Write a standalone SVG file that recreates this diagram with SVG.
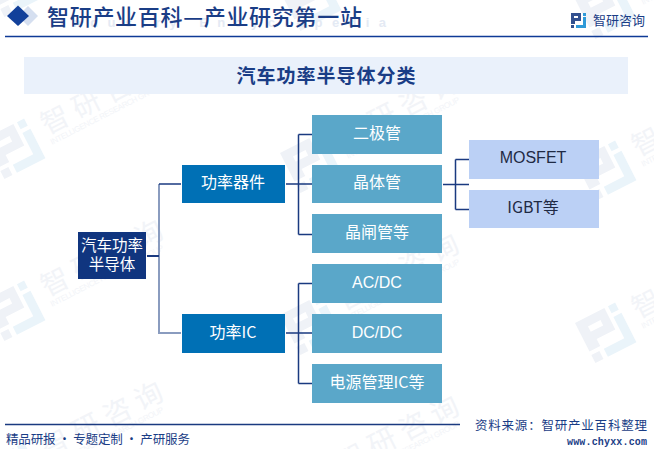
<svg xmlns="http://www.w3.org/2000/svg" xmlns:xlink="http://www.w3.org/1999/xlink" width="654" height="449" viewBox="0 0 654 449">
<style>
text{font-family:"Noto Sans CJK SC","Liberation Sans",sans-serif}
.lat{font-family:"Liberation Sans","Noto Sans CJK SC",sans-serif}
.c{text-anchor:middle;font-size:16px;fill:#fff}
.d{text-anchor:middle;font-size:16px;fill:#1f2a44}
.root{fill:#10357f}.mid{fill:#0070b5}.leaf{fill:#5aa7c9}.sub{fill:#bbd0f5}
.ln{fill:none;stroke:#1a3a80;stroke-width:1.5}
</style>
<defs>
<g id="wmark">
<path fill="#eff2f7" fill-rule="evenodd" d="M0 0H33V24H12V32H0zM10 9V15H24V9zM0 36H9V45H0z"/>
<path fill="#eaf4fa" d="M37 0H45V8H37zM37 12H46V45H14V36H37z"/>
<text x="58" y="25" font-size="28" fill="#f2f4f8" letter-spacing="7">智研咨询</text>
<text x="58" y="36" font-size="8" fill="#f2f4f8" class="lat" textLength="126">INTELLIGENCE RESEARCH GROUP</text>
</g>
</defs>
<rect width="654" height="449" fill="#fff"/>
<g id="watermarks">
<use xlink:href="#wmark" transform="translate(-16 -23) rotate(-27)"/>
<use xlink:href="#wmark" transform="translate(-16 139) rotate(-27)"/>
<use xlink:href="#wmark" transform="translate(-16 301) rotate(-27)"/>
<use xlink:href="#wmark" transform="translate(-16 463) rotate(-27)"/>
<use xlink:href="#wmark" transform="translate(280 -9) rotate(-27)"/>
<use xlink:href="#wmark" transform="translate(280 153) rotate(-27)"/>
<use xlink:href="#wmark" transform="translate(280 315) rotate(-27)"/>
<use xlink:href="#wmark" transform="translate(280 477) rotate(-27)"/>
<use xlink:href="#wmark" transform="translate(575 -1) rotate(-27)"/>
<use xlink:href="#wmark" transform="translate(575 161) rotate(-27)"/>
<use xlink:href="#wmark" transform="translate(575 323) rotate(-27)"/>
<use xlink:href="#wmark" transform="translate(575 485) rotate(-27)"/>
</g>
<g id="header">
<text x="60" y="27" font-size="13" font-weight="700" fill="#e4eaf4" class="lat" textLength="326">Industry Encyclopedia</text>
<path d="M28 6l10 10-10 10-10-10z" fill="#d5dff0"/>
<path d="M18 5.500l11 10.500-11 10-11-10z" fill="#12409a"/>
<text x="47" y="25" font-size="22" font-weight="500" fill="#1a3d86" letter-spacing=".7">智研产业百科—产业研究第一站</text>
<path d="M5 36.500H648" stroke="#0f3a96" stroke-width="1.500"/>
<g id="logo">
<path d="M571 13h10v8h-6v3h-4zM574 16v2h4v-2z" fill="#33518f" fill-rule="evenodd"/>
<path d="M571 25h3v3h-3z" fill="#33518f"/>
<path d="M583 13h3v3h-3z" fill="#2f9ad8"/>
<path d="M583 17h3v11h-10v-3h7z" fill="#2f9ad8"/>
</g>
<text x="593" y="25" font-size="13" fill="#1a3d86">智研咨询</text>
</g>
<g id="banner">
<rect x="24" y="57" width="604" height="37" fill="#eaf1fb"/>
<text x="326.500" y="83" font-size="19" font-weight="700" text-anchor="middle" fill="#1a3d86" letter-spacing="1">汽车功率半导体分类</text>
</g>
<g id="connectors">
<path d="M159 184V333H181" fill="none" stroke="#8a9cbf" stroke-width="2"/>
<path d="M147 256H159" fill="none" stroke="#1a3a80" stroke-width="2"/>
<path class="ln" d="M159 184H181"/>
<path class="ln" d="M286 184H312M298.500 134.500V234.500M298.500 134.500H312M298.500 234.500H312"/>
<path class="ln" d="M443 184.500H469M455.500 159.500V209.500M455.500 159.500H469M455.500 209.500H469"/>
<path class="ln" d="M286 333H312M298.500 283.500V383.500M298.500 283.500H312M298.500 383.500H312"/>
</g>
<g id="n-root"><rect class="root" x="78" y="232" width="68" height="47"/><text class="c" style="font-size:15.5px"><tspan x="112" y="251">汽车功率</tspan><tspan x="112" y="270">半导体</tspan></text></g>
<g id="n-device"><rect class="mid" x="182" y="165" width="103" height="38"/><text class="c" x="233" y="188">功率器件</text></g>
<g id="n-ic"><rect class="mid" x="182" y="314" width="103" height="39"/><text class="c" x="233" y="338">功率IC</text></g>
<g id="n-diode"><rect class="leaf" x="312" y="115" width="130" height="39"/><text class="c" x="377" y="139">二极管</text></g>
<g id="n-transistor"><rect class="leaf" x="312" y="165" width="130" height="38"/><text class="c" x="377" y="188">晶体管</text></g>
<g id="n-thyristor"><rect class="leaf" x="312" y="214" width="130" height="39"/><text class="c" x="377" y="238">晶闸管等</text></g>
<g id="n-acdc"><rect class="leaf" x="312" y="264" width="130" height="39"/><text class="c lat" x="377" y="288">AC/DC</text></g>
<g id="n-dcdc"><rect class="leaf" x="312" y="314" width="130" height="39"/><text class="c lat" x="377" y="338">DC/DC</text></g>
<g id="n-pmic"><rect class="leaf" x="312" y="364" width="130" height="39"/><text class="c" x="377" y="388">电源管理IC等</text></g>
<g id="n-mosfet"><rect class="sub" x="469" y="140" width="130" height="39"/><text class="d lat" x="533" y="163">MOSFET</text></g>
<g id="n-igbt"><rect class="sub" x="469" y="190" width="130" height="38"/><text class="d" x="533" y="213">IGBT等</text></g>
<g id="footer">
<path d="M5 424.500H460" stroke="#1a3a80" stroke-width="1.500"/>
<text x="6" y="444" font-size="12.500" fill="#1a3d86" textLength="184">精品研报 · 专题定制 · 产研服务</text>
<text x="475" y="430" font-size="12.500" fill="#1a3d86" textLength="172">资料来源：智研产业百科整理</text>
<text x="567" y="445" font-size="10" font-weight="700" fill="#1a3d86" style="font-family:'Liberation Mono',monospace" textLength="80">www.chyxx.com</text>
</g>
</svg>
